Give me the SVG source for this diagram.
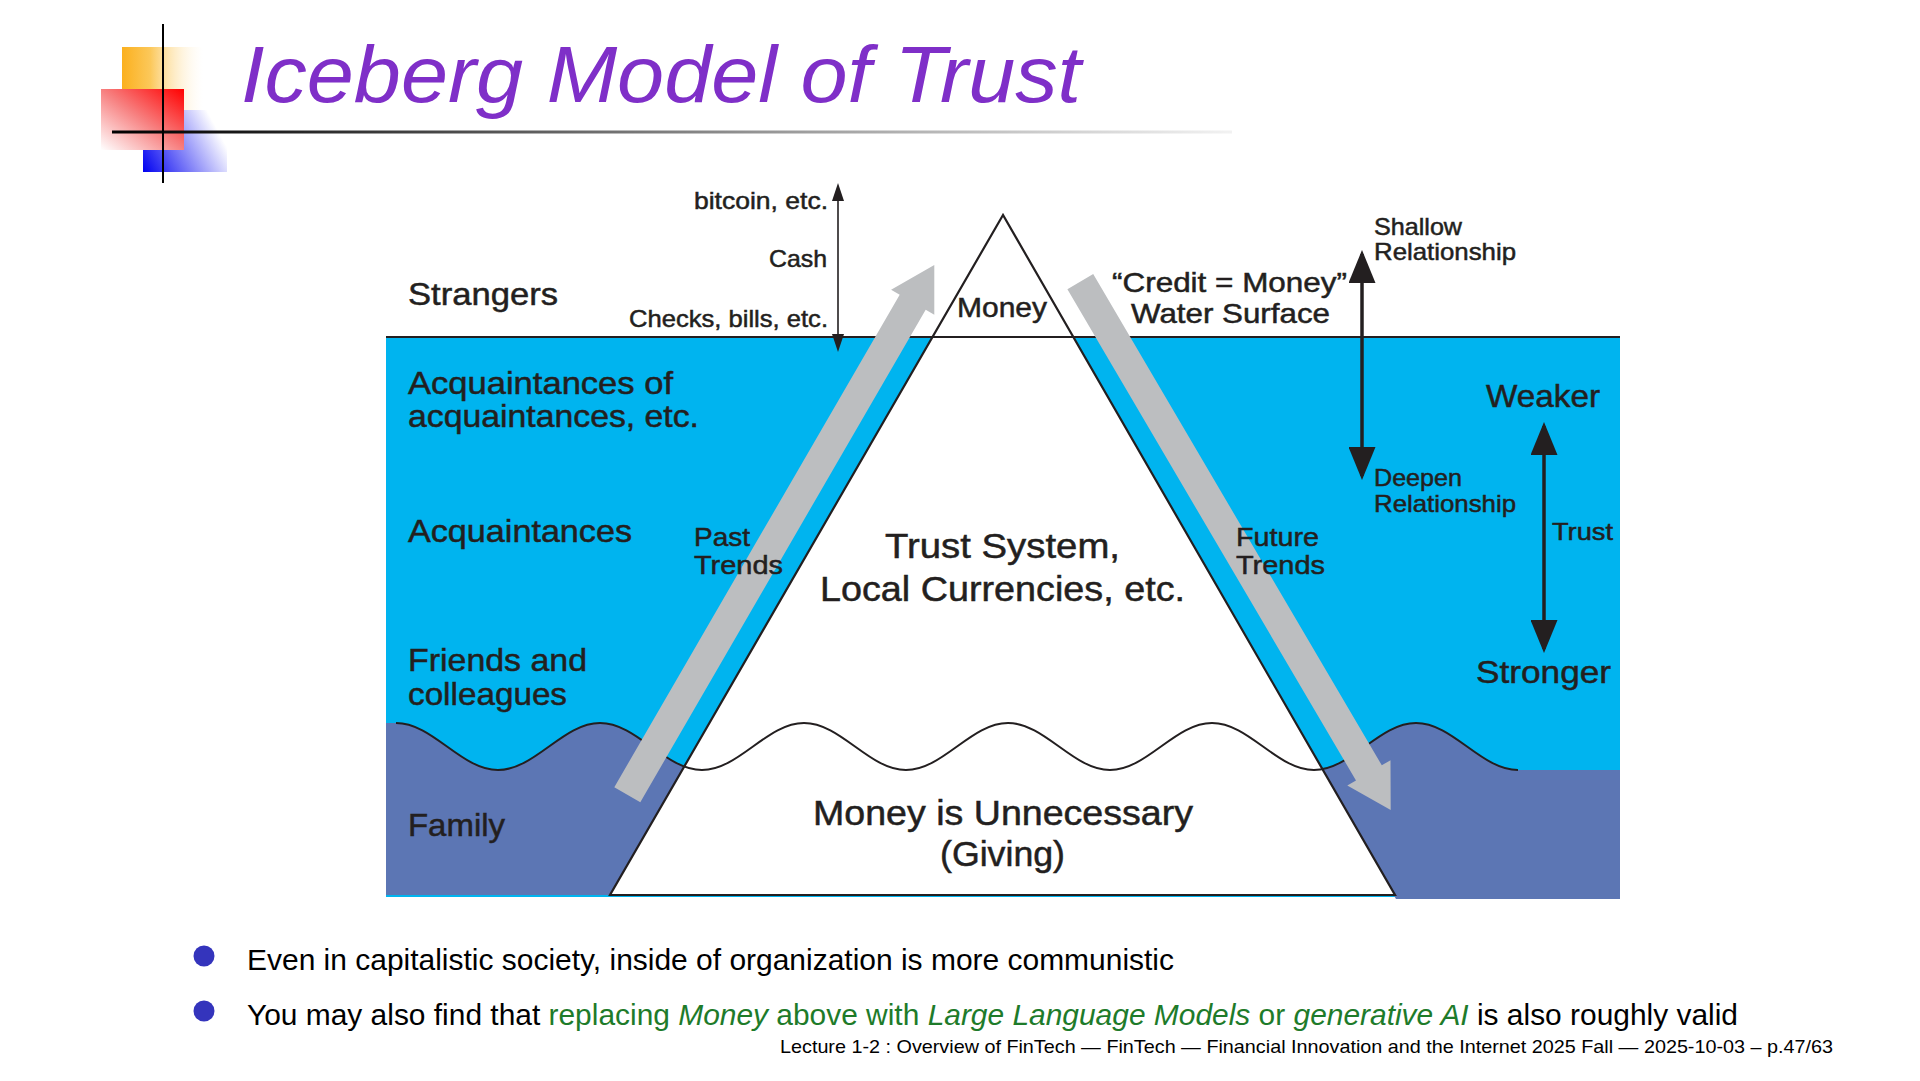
<svg xmlns="http://www.w3.org/2000/svg" width="1920" height="1081" viewBox="0 0 1920 1081">
<defs>
<style>
text{font-family:"Liberation Sans",Arial,sans-serif;fill:#231F20}
.lbl text{stroke:#231F20;stroke-width:0.5}
.lg{font-size:32px}
.xl{font-size:35px}
.md{font-size:28px}
.sm{font-size:24px}
.tr{font-size:26px}
.ink{stroke:#231F20;fill:none}
.gray{fill:#BCBEC0}
.bul{font-size:30px;fill:#000}
.grn{fill:#1E7B2A}
</style>
<linearGradient id="gY" x1="0" y1="0" x2="1" y2="0"><stop offset="0" stop-color="#FBB01E"/><stop offset="0.35" stop-color="#FCC85A"/><stop offset="1" stop-color="#FFFFFF" stop-opacity="0.2"/></linearGradient>
<linearGradient id="gR" x1="0" y1="1" x2="1" y2="0"><stop offset="0" stop-color="#FFFFFF"/><stop offset="0.5" stop-color="#F78080"/><stop offset="1" stop-color="#FF0000"/></linearGradient>
<linearGradient id="gB" x1="0" y1="1" x2="1" y2="0.6"><stop offset="0" stop-color="#0000F0"/><stop offset="1" stop-color="#FFFFFF"/></linearGradient>
<linearGradient id="gL" gradientUnits="userSpaceOnUse" x1="112" y1="0" x2="1232" y2="0"><stop offset="0" stop-color="#000000"/><stop offset="0.12" stop-color="#1A1A1A"/><stop offset="0.6" stop-color="#9A9A9A"/><stop offset="1" stop-color="#F2F2F2"/></linearGradient>
<marker id="hs" markerUnits="userSpaceOnUse" viewBox="0 0 18 12" markerWidth="18" markerHeight="12" refX="14" refY="6" orient="auto-start-reverse"><path d="M0,0 L18,6 L0,12 Z" fill="#231F20"/></marker>
<marker id="hl" markerUnits="userSpaceOnUse" viewBox="0 0 33 27" markerWidth="33" markerHeight="27" refX="29" refY="13.5" orient="auto-start-reverse"><path d="M0,0 L33,13.5 L0,27 Z" fill="#231F20"/></marker>
</defs>
<rect width="1920" height="1081" fill="#FFFFFF"/>

<g id="logo">
<rect x="122" y="47" width="81" height="63" fill="url(#gY)"/>
<rect x="143" y="110" width="84" height="62" fill="url(#gB)"/>
<rect x="101" y="89" width="83" height="61" fill="url(#gR)"/>
<rect x="112" y="130.5" width="1120" height="3" fill="url(#gL)"/>
<line x1="163" y1="24" x2="163" y2="183" stroke="#000" stroke-width="2"/>
</g>
<g id="title">
<text x="241" y="102" font-size="80" font-style="italic" style="fill:#7F2FC8" textLength="840" lengthAdjust="spacingAndGlyphs">Iceberg Model of Trust</text>
</g>

<g id="sea">
<rect x="386" y="337" width="1234" height="560" fill="#00B4EF"/>
<path id="family-left" d="M386,723 L396,723 C433,723 461,770 498,770 S563,723 600,723 S665,770 702,770 L702,895 L386,895 Z" fill="#5C76B4"/>
<path id="family-right" d="M1314,770 C1351,770 1379,723 1416,723 S1481,770 1518,770 L1620,770 L1620,899 L1396,899 L1310,750 Z" fill="#5C76B4"/>
</g>

<g id="iceberg">
<polygon points="1003,215 610,895 1395,895" fill="#FFFFFF" stroke="#231F20" stroke-width="2.2" stroke-linejoin="miter"/>
</g>
<g id="water-surface">
<line x1="386" y1="337" x2="1620" y2="337" class="ink" stroke-width="2.2"/>
</g>
<g id="wave">
<path class="ink" stroke-width="2" d="M396,723 C433,723 461,770 498,770 S563,723 600,723 S665,770 702,770 S767,723 804,723 S869,770 906,770 S971,723 1008,723 S1073,770 1110,770 S1175,723 1212,723 S1277,770 1314,770 S1379,723 1416,723 S1481,770 1518,770"/>
</g>

<g id="connectors">
<polygon id="past-trend-arrow" class="gray" points="934.3,265 934.3,314.7 925.7,309.7 640.3,802.2 614.3,787.2 899.7,294.7 891.1,289.7"/>
<polygon id="future-trend-arrow" class="gray" points="1067.4,289.3 1093.2,274.1 1381.8,765.3 1390.5,760.2 1390.7,810 1347.3,785.6 1356,780.5"/>
<line id="money-scale" x1="838" y1="187" x2="838" y2="348" stroke="#231F20" stroke-width="1.6" marker-start="url(#hs)" marker-end="url(#hs)"/>
<line id="relationship-arrow" x1="1362" y1="254" x2="1362" y2="476" stroke="#231F20" stroke-width="3.5" marker-start="url(#hl)" marker-end="url(#hl)"/>
<line id="trust-arrow" x1="1544" y1="426" x2="1544" y2="649" stroke="#231F20" stroke-width="3.5" marker-start="url(#hl)" marker-end="url(#hl)"/>
</g>

<g id="money-labels" class="lbl">
<text class="sm" x="694" y="209" textLength="134" lengthAdjust="spacingAndGlyphs">bitcoin, etc.</text>
<text class="sm" x="769" y="267" textLength="58" lengthAdjust="spacingAndGlyphs">Cash</text>
<text class="sm" x="629" y="327" textLength="199" lengthAdjust="spacingAndGlyphs">Checks, bills, etc.</text>
</g>
<g id="layer-labels" class="lbl">
<text class="lg" x="408" y="305" textLength="150" lengthAdjust="spacingAndGlyphs">Strangers</text>
<text class="lg" x="408" y="394" textLength="265" lengthAdjust="spacingAndGlyphs">Acquaintances of</text>
<text class="lg" x="408" y="427" textLength="291" lengthAdjust="spacingAndGlyphs">acquaintances, etc.</text>
<text class="lg" x="408" y="542" textLength="224" lengthAdjust="spacingAndGlyphs">Acquaintances</text>
<text class="lg" x="408" y="671" textLength="179" lengthAdjust="spacingAndGlyphs">Friends and</text>
<text class="lg" x="408" y="705" textLength="159" lengthAdjust="spacingAndGlyphs">colleagues</text>
<text class="lg" x="408" y="836" textLength="97" lengthAdjust="spacingAndGlyphs">Family</text>
</g>
<g id="iceberg-labels" class="lbl">
<text class="md" x="957" y="317" textLength="90" lengthAdjust="spacingAndGlyphs">Money</text>
<text class="xl" x="885" y="558" textLength="235" lengthAdjust="spacingAndGlyphs">Trust System,</text>
<text class="xl" x="820" y="601" textLength="365" lengthAdjust="spacingAndGlyphs">Local Currencies, etc.</text>
<text class="xl" x="813" y="825" textLength="380" lengthAdjust="spacingAndGlyphs">Money is Unnecessary</text>
<text class="xl" x="940" y="866" textLength="125" lengthAdjust="spacingAndGlyphs">(Giving)</text>
</g>
<g id="trend-labels" class="lbl">
<text class="tr" x="694" y="546" textLength="56" lengthAdjust="spacingAndGlyphs">Past</text>
<text class="tr" x="694" y="574" textLength="89" lengthAdjust="spacingAndGlyphs">Trends</text>
<text class="tr" x="1236" y="546" textLength="83" lengthAdjust="spacingAndGlyphs">Future</text>
<text class="tr" x="1236" y="574" textLength="89" lengthAdjust="spacingAndGlyphs">Trends</text>
</g>
<g id="surface-labels" class="lbl">
<text class="md" x="1112" y="292" textLength="235" lengthAdjust="spacingAndGlyphs">“Credit = Money”</text>
<text class="md" x="1131" y="323" textLength="199" lengthAdjust="spacingAndGlyphs">Water Surface</text>
<text class="sm" x="1374" y="235" textLength="88" lengthAdjust="spacingAndGlyphs">Shallow</text>
<text class="sm" x="1374" y="260" textLength="142" lengthAdjust="spacingAndGlyphs">Relationship</text>
<text class="sm" x="1374" y="486" textLength="88" lengthAdjust="spacingAndGlyphs">Deepen</text>
<text class="sm" x="1374" y="512" textLength="142" lengthAdjust="spacingAndGlyphs">Relationship</text>
</g>
<g id="trust-labels" class="lbl">
<text class="lg" x="1486" y="407" textLength="114" lengthAdjust="spacingAndGlyphs">Weaker</text>
<text class="sm" x="1552" y="540" textLength="61" lengthAdjust="spacingAndGlyphs">Trust</text>
<text class="lg" x="1476" y="683" textLength="135" lengthAdjust="spacingAndGlyphs">Stronger</text>
</g>

<g id="bullets">
<circle cx="204" cy="956" r="10.5" fill="#3434BC"/>
<circle cx="204" cy="1011" r="10.5" fill="#3434BC"/>
<text class="bul" x="247" y="970" textLength="927" lengthAdjust="spacingAndGlyphs">Even in capitalistic society, inside of organization is more communistic</text>
<text class="bul" x="247" y="1025" textLength="1491" lengthAdjust="spacingAndGlyphs">You may also find that <tspan class="grn">replacing </tspan><tspan class="grn" font-style="italic">Money</tspan><tspan class="grn"> above with </tspan><tspan class="grn" font-style="italic">Large Language Models</tspan><tspan class="grn"> or </tspan><tspan class="grn" font-style="italic">generative AI</tspan> is also roughly valid</text>
</g>
<g id="footer">
<text x="780" y="1053" font-size="19" style="fill:#000" textLength="1053" lengthAdjust="spacingAndGlyphs">Lecture 1-2 : Overview of FinTech — FinTech — Financial Innovation and the Internet 2025 Fall — 2025-10-03 – p.47/63</text>
</g>
</svg>
